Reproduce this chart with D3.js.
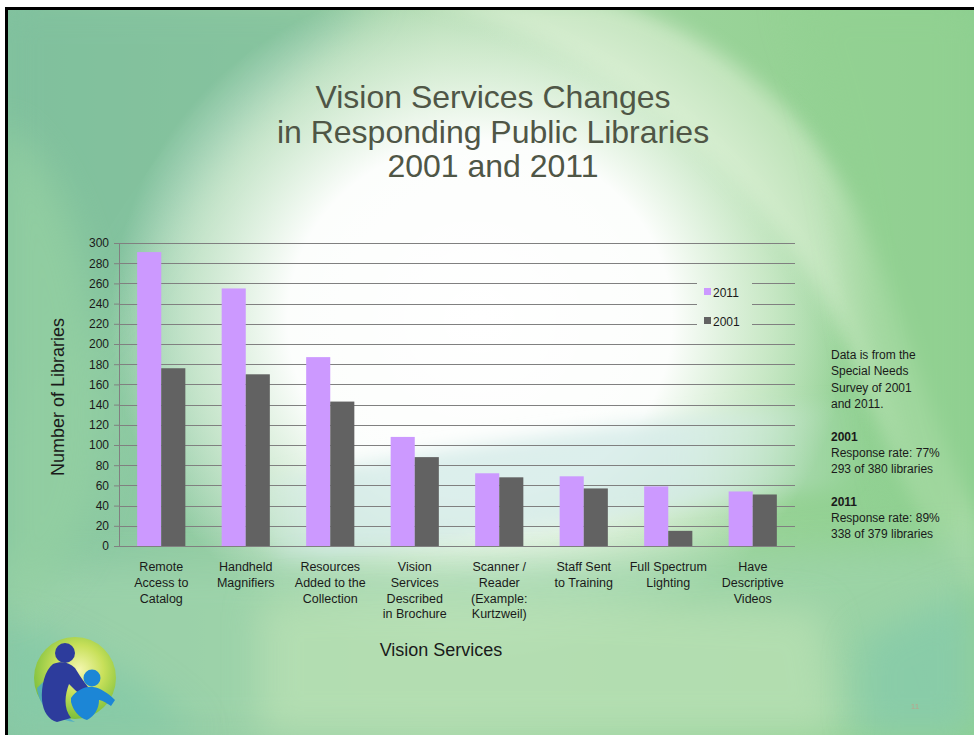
<!DOCTYPE html>
<html>
<head>
<meta charset="utf-8">
<script src="https://cdn.jsdelivr.net/npm/d3@7"></script>
<style>
  html, body { margin: 0; padding: 0; background: #ffffff; }
  svg { display: block; font-family: "Liberation Sans", Arial, sans-serif; }
</style>
</head>
<body>
<svg id="slide" width="974" height="735"></svg>
<script>
// ---- chart data ----
const categories = [
  "Remote\nAccess to\nCatalog",
  "Handheld\nMagnifiers",
  "Resources\nAdded to the\nCollection",
  "Vision\nServices\nDescribed\nin Brochure",
  "Scanner /\nReader\n(Example:\nKurtzweil)",
  "Staff Sent\nto Training",
  "Full Spectrum\nLighting",
  "Have\nDescriptive\nVideos"
];
const seriesNames = ["2011", "2001"];
const values2011 = [291, 255, 187, 108, 72, 69, 59, 54];
const values2001 = [176, 170, 143, 88, 68, 57, 15, 51];
const yTicks = [0, 20, 40, 60, 80, 100, 120, 140, 160, 180, 200, 220, 240, 260, 280, 300];

const titleLines = ["Vision Services Changes", "in Responding Public Libraries", "2001 and 2011"];
const noteLines = [
  { t: "Data is from the", b: false },
  { t: "Special Needs", b: false },
  { t: "Survey of 2001", b: false },
  { t: "and 2011.", b: false },
  { t: "", b: false },
  { t: "2001", b: true },
  { t: "Response rate: 77%", b: false },
  { t: "293 of 380 libraries", b: false },
  { t: "", b: false },
  { t: "2011", b: true },
  { t: "Response rate: 89%", b: false },
  { t: "338 of 379 libraries", b: false }
];

const colors = { "2011": "#cc99ff", "2001": "#626262" };

const svg = d3.select("#slide");
const W = 974, H = 735;
const defs = svg.append("defs");

// ---- slide background ----
const base = defs.append("linearGradient").attr("id", "baseGrad")
  .attr("x1", 0).attr("y1", 0).attr("x2", 1).attr("y2", 0);
base.append("stop").attr("offset", 0).attr("stop-color", "#82c3a0");
base.append("stop").attr("offset", 0.45).attr("stop-color", "#a6d6a6");
base.append("stop").attr("offset", 0.8).attr("stop-color", "#96d295");
base.append("stop").attr("offset", 1).attr("stop-color", "#8ccf90");

const glow = defs.append("radialGradient").attr("id", "glow")
  .attr("gradientUnits", "userSpaceOnUse")
  .attr("cx", 480).attr("cy", 320).attr("r", 420)
  .attr("gradientTransform", "translate(480,320) scale(0.88,0.82) translate(-480,-320)");
glow.append("stop").attr("offset", 0).attr("stop-color", "#ffffff").attr("stop-opacity", 1);
glow.append("stop").attr("offset", 0.52).attr("stop-color", "#ffffff").attr("stop-opacity", 0.97);
glow.append("stop").attr("offset", 0.78).attr("stop-color", "#f2faee").attr("stop-opacity", 0.55);
glow.append("stop").attr("offset", 1).attr("stop-color", "#ffffff").attr("stop-opacity", 0);

// horizontal fade for the pale blue band
const bandGrad = defs.append("linearGradient").attr("id", "bandGrad")
  .attr("gradientUnits", "userSpaceOnUse")
  .attr("x1", 240).attr("y1", 0).attr("x2", 860).attr("y2", 0);
bandGrad.append("stop").attr("offset", 0).attr("stop-color", "#d4ebe8").attr("stop-opacity", 0);
bandGrad.append("stop").attr("offset", 0.15).attr("stop-color", "#d4ebe8").attr("stop-opacity", 0.8);
bandGrad.append("stop").attr("offset", 0.7).attr("stop-color", "#d4ebe8").attr("stop-opacity", 0.8);
bandGrad.append("stop").attr("offset", 1).attr("stop-color", "#d4ebe8").attr("stop-opacity", 0);

// blur filters spanning the whole slide so no edges get clipped
function blurFilter(id, sd) {
  defs.append("filter").attr("id", id)
    .attr("filterUnits", "userSpaceOnUse")
    .attr("x", -200).attr("y", -200).attr("width", W + 400).attr("height", H + 400)
    .append("feGaussianBlur").attr("stdDeviation", sd);
}
blurFilter("soft", 18);
blurFilter("softer", 9);

const bg = svg.append("g").attr("class", "background");
bg.append("rect").attr("x", 0).attr("y", 0).attr("width", W).attr("height", H).attr("fill", "url(#baseGrad)");

// top-left teal sweep
bg.append("path")
  .attr("d", "M0,0 L380,0 C300,60 200,160 120,300 L0,420 Z")
  .attr("fill", "#7fbf9c").attr("opacity", 0.7).attr("filter", "url(#soft)");

// central white glow
bg.append("rect").attr("x", 0).attr("y", 0).attr("width", W).attr("height", H).attr("fill", "url(#glow)");

// pale sweep from the top centre curving down to the right
bg.append("path")
  .attr("d", "M420,0 C600,40 760,170 840,330 C880,420 920,520 974,600 L974,520 C930,420 900,300 860,210 C800,100 700,20 600,0 Z")
  .attr("fill", "#e6f4dc").attr("opacity", 0.5).attr("filter", "url(#softer)");

// right-hand green sweep
bg.append("path")
  .attr("d", "M790,0 L974,0 L974,720 C920,580 880,440 860,310 C845,180 820,80 790,0 Z")
  .attr("fill", "#93d192").attr("opacity", 0.7).attr("filter", "url(#soft)");

// light blue band low across the plot
bg.append("path")
  .attr("d", "M240,485 C450,445 640,420 860,400 L860,485 C660,505 480,540 280,565 Z")
  .attr("fill", "url(#bandGrad)").attr("filter", "url(#softer)");

// bottom green band
bg.append("path")
  .attr("d", "M0,560 C300,570 600,570 974,540 L974,735 L0,735 Z")
  .attr("fill", "#9fd4ac").attr("opacity", 0.75).attr("filter", "url(#soft)");
bg.append("path")
  .attr("d", "M260,600 C420,590 600,600 820,610 L840,735 L260,735 Z")
  .attr("fill", "#c4e6b8").attr("opacity", 0.55).attr("filter", "url(#soft)");
bg.append("path")
  .attr("d", "M0,620 C80,640 160,690 200,735 L0,735 Z")
  .attr("fill", "#7cc6a6").attr("opacity", 0.6).attr("filter", "url(#soft)");
bg.append("path")
  .attr("d", "M860,640 C900,620 950,600 974,590 L974,735 L860,735 Z")
  .attr("fill", "#7ec8aa").attr("opacity", 0.6).attr("filter", "url(#soft)");

// left edge green in the plot zone
bg.append("path")
  .attr("d", "M0,120 C60,160 95,260 105,400 C105,500 90,570 0,620 Z")
  .attr("fill", "#94d0a2").attr("opacity", 0.8).attr("filter", "url(#soft)");

// slide frame (top and left edges)
svg.append("rect").attr("x", 0).attr("y", 0).attr("width", W).attr("height", 7).attr("fill", "#ffffff");
svg.append("rect").attr("x", 0).attr("y", 0).attr("width", 5).attr("height", H).attr("fill", "#ffffff");
svg.append("rect").attr("x", 5).attr("y", 7).attr("width", W - 5).attr("height", 3).attr("fill", "#000000");
svg.append("rect").attr("x", 5).attr("y", 7).attr("width", 3).attr("height", H - 7).attr("fill", "#000000");

// ---- title ----
svg.append("g").selectAll("text").data(titleLines).join("text")
  .attr("x", 493).attr("y", (d, i) => 108 + i * 34.5)
  .attr("text-anchor", "middle")
  .attr("font-size", 32).attr("fill", "#4f5646")
  .text(d => d);

// ---- chart ----
const plot = { left: 119, right: 795, top: 243, bottom: 546 };

const x0 = d3.scaleBand().domain(categories).range([plot.left, plot.right])
  .paddingInner(0.43).paddingOuter(0.215);
const x1 = d3.scaleBand().domain(seriesNames).range([0, x0.bandwidth()]);
const y = d3.scaleLinear().domain([0, 300]).range([plot.bottom, plot.top]);

// legend box position (gridlines are hidden behind it)
const legend = { x: 697, y: 278, w: 55, h: 55 };
const mask = defs.append("mask").attr("id", "legendMask");
mask.append("rect").attr("x", 0).attr("y", 0).attr("width", W).attr("height", H).attr("fill", "#fff");
mask.append("rect").attr("x", legend.x).attr("y", legend.y).attr("width", legend.w).attr("height", legend.h).attr("fill", "#000");

const grid = svg.append("g").attr("mask", "url(#legendMask)");
grid.selectAll("line").data(yTicks.filter(v => v > 0)).join("line")
  .attr("x1", plot.left).attr("x2", plot.right)
  .attr("y1", d => Math.round(y(d)) + 0.5).attr("y2", d => Math.round(y(d)) + 0.5)
  .attr("stroke", "#808080").attr("stroke-width", 1);

// y axis
const yAxis = svg.append("g").attr("transform", `translate(${plot.left},0)`)
  .call(d3.axisLeft(y).tickValues(yTicks).tickSize(5).tickPadding(5).tickFormat(d3.format("d")));
yAxis.select(".domain").attr("stroke", "#808080");
yAxis.selectAll(".tick line").attr("stroke", "#808080");
yAxis.selectAll(".tick text").attr("font-size", 12).attr("fill", "#1a1a1a")
  .attr("font-family", "Liberation Sans, Arial, sans-serif");

// bars
const groups = svg.append("g").selectAll("g").data(categories).join("g")
  .attr("transform", d => `translate(${x0(d)},0)`);
groups.selectAll("rect")
  .data((d, i) => [{ s: "2011", v: values2011[i] }, { s: "2001", v: values2001[i] }])
  .join("rect")
  .attr("x", d => x1(d.s))
  .attr("width", x1.bandwidth())
  .attr("y", d => y(d.v))
  .attr("height", d => y(0) - y(d.v))
  .attr("fill", d => colors[d.s]);

// x axis baseline
svg.append("line")
  .attr("x1", plot.left).attr("x2", plot.right)
  .attr("y1", plot.bottom + 0.5).attr("y2", plot.bottom + 0.5)
  .attr("stroke", "#808080");

// category labels
const catG = svg.append("g").selectAll("text").data(categories).join("text")
  .attr("text-anchor", "middle")
  .attr("font-size", 12.5).attr("fill", "#1a1a1a");
catG.each(function (d) {
  const t = d3.select(this);
  const cx = x0(d) + x0.bandwidth() / 2;
  d.split("\n").forEach((line, i) => {
    t.append("tspan").attr("x", cx).attr("y", 571 + i * 15.8).text(line);
  });
});

// axis titles
svg.append("text")
  .attr("transform", "translate(64,397) rotate(-90)")
  .attr("text-anchor", "middle").attr("font-size", 18).attr("fill", "#1a1a1a")
  .text("Number of Libraries");
svg.append("text")
  .attr("x", 441).attr("y", 656)
  .attr("text-anchor", "middle").attr("font-size", 18).attr("fill", "#1a1a1a")
  .text("Vision Services");

// legend
const lg = svg.append("g").selectAll("g").data(seriesNames).join("g")
  .attr("transform", (d, i) => `translate(${legend.x + 7},${legend.y + 10 + i * 29})`);
lg.append("rect").attr("x", 0).attr("y", 0).attr("width", 7).attr("height", 7)
  .attr("fill", d => colors[d]);
lg.append("text").attr("x", 9).attr("y", 8.5)
  .attr("font-size", 12).attr("fill", "#1a1a1a").text(d => d);

// side note
svg.append("g").selectAll("text").data(noteLines).join("text")
  .attr("x", 831).attr("y", (d, i) => 359 + i * 16.3)
  .attr("font-size", 12).attr("fill", "#1a1a1a")
  .attr("font-weight", d => d.b ? "bold" : "normal")
  .text(d => d.t);

// page number
svg.append("text").attr("x", 915).attr("y", 709).attr("text-anchor", "middle")
  .attr("font-size", 8).attr("fill", "#c49a86").attr("opacity", 0.8).text("11");

// ---- logo ----
const logoGrad = defs.append("radialGradient").attr("id", "logoGrad")
  .attr("cx", 0.55).attr("cy", 0.4).attr("r", 0.6);
logoGrad.append("stop").attr("offset", 0).attr("stop-color", "#f4f7b0");
logoGrad.append("stop").attr("offset", 0.5).attr("stop-color", "#c8e05a");
logoGrad.append("stop").attr("offset", 1).attr("stop-color", "#7cbf3c");
const logo = svg.append("g").attr("transform", "translate(75,678)");
logo.append("circle").attr("r", 41).attr("fill", "url(#logoGrad)");
logo.append("path")
  .attr("d", "M-38,10 C-36,30 -20,42 0,44 C-18,34 -28,22 -32,4 Z")
  .attr("fill", "#4aa8c8").attr("opacity", 0.85);
// adult figure
logo.append("circle").attr("cx", -10).attr("cy", -25).attr("r", 10).attr("fill", "#2d3c9c");
logo.append("path")
  .attr("d", "M-22,-14 C-30,-8 -34,8 -33,22 C-32,34 -26,42 -18,44 L-4,40 C-12,30 -10,16 -6,6 C2,14 10,22 22,26 L24,20 C14,12 6,0 0,-10 C-6,-16 -14,-17 -22,-14 Z")
  .attr("fill", "#2d3c9c");
// child figure
logo.append("circle").attr("cx", 17).attr("cy", 0).attr("r", 8.5).attr("fill", "#1c86d6");
logo.append("path")
  .attr("d", "M-4,20 C2,12 10,8 18,9 C26,10 34,16 40,22 L36,28 C30,24 26,22 24,22 C24,30 20,38 12,42 C4,40 -2,32 -4,24 Z")
  .attr("fill", "#1c86d6");
</script>
</body>
</html>
